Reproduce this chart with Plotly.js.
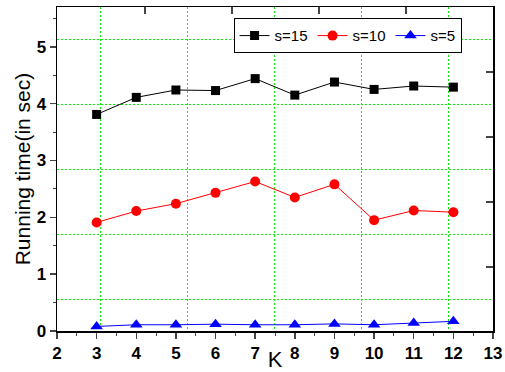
<!DOCTYPE html>
<html><head><meta charset="utf-8">
<script src="https://cdn.plot.ly/plotly-3.0.1.min.js"></script>
<style>body{margin:0;padding:0;background:#fff}#c{width:505px;height:372px}</style>
</head><body><div id="c"></div>
<script>
const K = [3,4,5,6,7,8,9,10,11,12];
const s15 = [3.81,4.11,4.24,4.23,4.44,4.15,4.38,4.25,4.31,4.29];
const s10 = [1.91,2.11,2.24,2.43,2.63,2.35,2.58,1.95,2.12,2.09];
const s5  = [0.08,0.11,0.11,0.12,0.11,0.11,0.125,0.11,0.14,0.17];
const xTickVals = [2,3,4,5,6,7,8,9,10,11,12,13];
const yTickVals = [0,1,2,3,4,5];

const traces = [
  {x:K, y:s15, name:'s=15', mode:'lines+markers', line:{color:'#000000', width:1},
   marker:{symbol:'square', size:9, color:'#000000'}},
  {x:K, y:s10, name:'s=10', mode:'lines+markers', line:{color:'#ff0000', width:1},
   marker:{symbol:'circle', size:10, color:'#ff0000'}},
  {x:K, y:s5, name:'s=5', mode:'lines+markers', line:{color:'#0000ff', width:1},
   marker:{symbol:'triangle-up', size:11, color:'#0000ff'}},
  {x:[2], y:[0], xaxis:'x2', yaxis:'y2', showlegend:false, mode:'markers', marker:{opacity:0}, hoverinfo:'skip'},
  {x:[2], y:[0], xaxis:'x3', yaxis:'y3', showlegend:false, mode:'markers', marker:{opacity:0}, hoverinfo:'skip'}
];

const gridStyle = {showgrid:true, gridcolor:'#00ee00', griddash:'2px,2px', gridwidth:1};
const tf = {size:17, family:'Liberation Sans, Arial, sans-serif', weight:700};
const layout = {
  width:505, height:372,
  margin:{l:57, r:12, t:7, b:41},
  paper_bgcolor:'#ffffff', plot_bgcolor:'rgba(0,0,0,0)',
  font:{family:'Liberation Sans, Arial, sans-serif', color:'#000'},
  showlegend:true,
  legend:{orientation:'h', x:0.405, y:0.965, xanchor:'left', yanchor:'top',
    bordercolor:'#000', borderwidth:1, bgcolor:'#ffffff',
    font:{size:15}, tracegroupgap:0},
  xaxis:{range:[2,13], tickvals:xTickVals, ticks:'outside', ticklen:6, tickwidth:1.5,
    showline:true, linecolor:'#000', linewidth:1.5, mirror:true, showgrid:false, zeroline:false,
    tickfont:tf,
    minor:{dtick:0.5, ticks:'outside', ticklen:3, tickwidth:1, showgrid:false},
    title:{text:'K', font:{size:22}, standoff:0}},
  yaxis:{range:[0,5.7], tickvals:yTickVals, ticks:'outside', ticklen:6, tickwidth:1.5,
    showline:true, linecolor:'#000', linewidth:1.5, mirror:true, showgrid:false, zeroline:false,
    tickfont:tf,
    minor:{dtick:0.5, ticks:'outside', ticklen:3, tickwidth:1, showgrid:false},
    title:{text:'Running time(in sec)', font:{size:21}, standoff:0}},
  xaxis2:{overlaying:'x', side:'top', range:[2,13], tick0:4.22, dtick:2.195, ticks:'inside', ticklen:7,
    tickwidth:1.5, showticklabels:false, showgrid:false, zeroline:false, anchor:'y'},
  yaxis2:{overlaying:'y', side:'right', range:[0,5.7], tick0:1.1274, dtick:1.14352, ticks:'inside', ticklen:7,
    tickwidth:1.5, showticklabels:false, showgrid:false, zeroline:false, anchor:'x'},
  xaxis3:Object.assign({overlaying:'x', range:[2,13], tick0:3.0975, dtick:2.19495, ticks:'', showticklabels:false,
    zeroline:false, anchor:'y'}, gridStyle),
  yaxis3:Object.assign({overlaying:'y', range:[0,5.7], tick0:0.5541, dtick:1.14352, ticks:'', showticklabels:false,
    zeroline:false, anchor:'x'}, gridStyle)
};
Plotly.newPlot('c', traces, layout, {staticPlot:true});
</script></body></html>
